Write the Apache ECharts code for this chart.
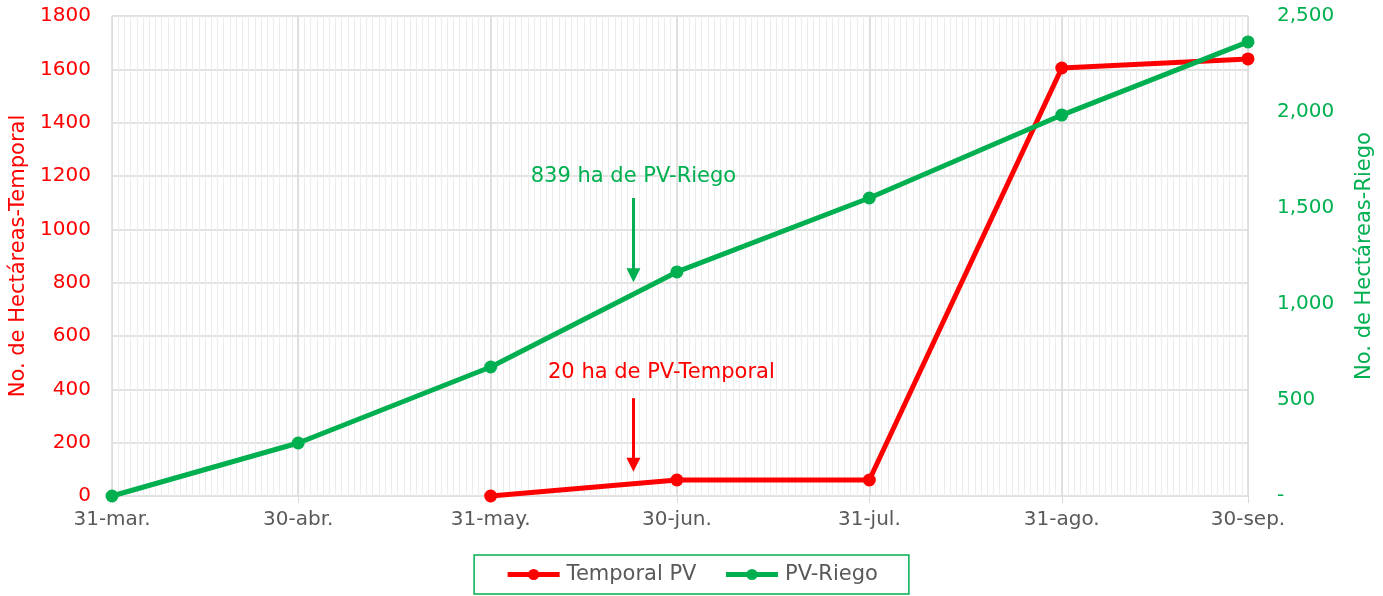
<!DOCTYPE html>
<html>
<head>
<meta charset="utf-8">
<script src="https://cdn.jsdelivr.net/npm/echarts@6/dist/echarts.min.js"></script>
<style>
  html, body { margin: 0; padding: 0; background: #fff; }
  #main { width: 1383px; height: 596px; }
</style>
</head>
<body>
<div id="main"></div>
<script>
// datos
const fechas = ['2024-03-31', '2024-04-30', '2024-05-31', '2024-06-30', '2024-07-31', '2024-08-31', '2024-09-30']
const etiquetasX = ['31-mar.', '30-abr.', '31-may.', '30-jun.', '31-jul.', '31-ago.', '30-sep.']
const temporalPV = [null, null, 0, 60, 60, 1605, 1639]
const pvRiego = [0, 276, 672, 1167, 1552, 1984, 2365]

// anotaciones: [fecha, valor inicio, valor fin]
const flechaRiego = ['2024-06-23', 1552, 1150]
const flechaTemporal = ['2024-06-23', 367, 117]
const textoRiego = ['2024-06-23', 1663, '839 ha de PV-Riego']
const textoTemporal = ['2024-06-27 12:00', 462, '20 ha de PV-Temporal']

const ROJO = '#ff0000'
const VERDE = '#00b050'
const GRIS = '#595959'
const FUENTE = 'DejaVu Sans'

// días transcurridos desde la primera fecha
const t0 = echarts.time.parse(fechas[0]).getTime()
const dia = (d) => (echarts.time.parse(d).getTime() - t0) / 86400000
const ticksX = fechas.map((f) => Math.round(dia(f)))
const dias = ticksX[ticksX.length - 1]

const serieTemporal = []
fechas.forEach((f, i) => {
    if (temporalPV[i] !== null) serieTemporal.push([ticksX[i], temporalPV[i]])
})
const serieRiego = fechas.map((f, i) => [ticksX[i], pvRiego[i]])

const myChart = echarts.init(document.getElementById('main'))

const option = {
    animation: false,
    textStyle: { fontFamily: FUENTE },
    grid: { left: 111, right: 135, top: 16, bottom: 100 },
    legend: {
        bottom: 2,
        left: 'center',
        borderColor: VERDE,
        borderWidth: 1.5,
        padding: [9, 31, 9, 31],
        itemGap: 27,
        itemWidth: 52,
        itemHeight: 14,
        lineStyle: { width: 5 },
        textStyle: { color: GRIS, fontSize: 21, fontFamily: FUENTE, padding: [0, 0, 0, 2] },
        data: ['Temporal PV', 'PV-Riego'],
    },
    xAxis: [
        {
            // rejilla diaria
            type: 'value',
            min: 0,
            max: dias,
            interval: 1,
            position: 'bottom',
            axisLine: { show: false },
            axisTick: { show: false },
            axisLabel: { show: false },
            splitLine: { show: true, lineStyle: { color: '#ececec', width: 1 } },
        },
        {
            type: 'value',
            min: 0,
            max: dias,
            position: 'bottom',
            axisLine: { show: false },
            axisTick: {
                show: true,
                customValues: ticksX,
                length: 7,
                lineStyle: { color: '#d9d9d9' },
            },
            axisLabel: {
                customValues: ticksX,
                margin: 14,
                color: GRIS,
                fontSize: 20,
                fontFamily: FUENTE,
                formatter: (v) => {
                    const i = ticksX.indexOf(Math.round(v))
                    return i >= 0 ? etiquetasX[i] : ''
                },
            },
            splitLine: { show: true, lineStyle: { color: '#d9d9d9', width: 1.5 } },
        },
    ],
    yAxis: [
        {
            type: 'value',
            min: 0,
            max: 1800,
            interval: 200,
            name: 'No. de Hectáreas-Temporal',
            nameLocation: 'middle',
            nameRotate: 90,
            nameGap: 83,
            nameTextStyle: { color: ROJO, fontSize: 21, fontFamily: FUENTE },
            axisLine: { show: false },
            axisTick: { show: false },
            axisLabel: {
                color: ROJO,
                fontSize: 20,
                margin: 21,
                fontFamily: FUENTE,
                formatter: (v) => String(v),
            },
            splitLine: { show: true, lineStyle: { color: '#d9d9d9', width: 1.5 } },
        },
        {
            type: 'value',
            min: 0,
            max: 2500,
            interval: 500,
            position: 'right',
            name: 'No. de Hectáreas-Riego',
            nameLocation: 'middle',
            nameRotate: 90,
            nameGap: 106,
            nameTextStyle: { color: VERDE, fontSize: 21, fontFamily: FUENTE },
            axisLine: { show: false },
            axisTick: { show: false },
            axisLabel: {
                color: VERDE,
                fontSize: 20,
                margin: 29,
                fontFamily: FUENTE,
                formatter: (v) => (v === 0 ? '-' : v.toLocaleString('en-US')),
            },
            splitLine: { show: false },
        },
    ],
    series: [
        {
            name: 'Temporal PV',
            type: 'line',
            xAxisIndex: 1,
            yAxisIndex: 0,
            data: serieTemporal,
            color: ROJO,
            symbol: 'circle',
            symbolSize: 13,
            lineStyle: { width: 5, color: ROJO },
            itemStyle: { color: ROJO },
            z: 3,
            markLine: {
                silent: true,
                symbol: ['none', 'triangle'],
                symbolSize: [14, 14],
                lineStyle: { color: ROJO, width: 3, type: 'solid' },
                label: { show: false },
                data: [[
                    { coord: [dia(flechaTemporal[0]), flechaTemporal[1]] },
                    { coord: [dia(flechaTemporal[0]), flechaTemporal[2]] },
                ]],
            },
            markPoint: {
                silent: true,
                symbol: 'circle',
                symbolSize: 1,
                itemStyle: { color: 'rgba(0,0,0,0)' },
                label: {
                    show: true,
                    position: 'inside',
                    color: ROJO,
                    fontSize: 21,
                    fontFamily: FUENTE,
                    formatter: textoTemporal[2],
                },
                data: [{ coord: [dia(textoTemporal[0]), textoTemporal[1]] }],
            },
        },
        {
            name: 'PV-Riego',
            type: 'line',
            xAxisIndex: 1,
            yAxisIndex: 1,
            data: serieRiego,
            color: VERDE,
            symbol: 'circle',
            symbolSize: 13,
            lineStyle: { width: 5, color: VERDE },
            itemStyle: { color: VERDE },
            z: 4,
            markLine: {
                silent: true,
                symbol: ['none', 'triangle'],
                symbolSize: [14, 14],
                lineStyle: { color: VERDE, width: 3, type: 'solid' },
                label: { show: false },
                data: [[
                    { coord: [dia(flechaRiego[0]), flechaRiego[1]] },
                    { coord: [dia(flechaRiego[0]), flechaRiego[2]] },
                ]],
            },
            markPoint: {
                silent: true,
                symbol: 'circle',
                symbolSize: 1,
                itemStyle: { color: 'rgba(0,0,0,0)' },
                label: {
                    show: true,
                    position: 'inside',
                    color: VERDE,
                    fontSize: 21,
                    fontFamily: FUENTE,
                    formatter: textoRiego[2],
                },
                data: [{ coord: [dia(textoRiego[0]), textoRiego[1]] }],
            },
        },
    ],
}

myChart.setOption(option)
</script>
</body>
</html>
